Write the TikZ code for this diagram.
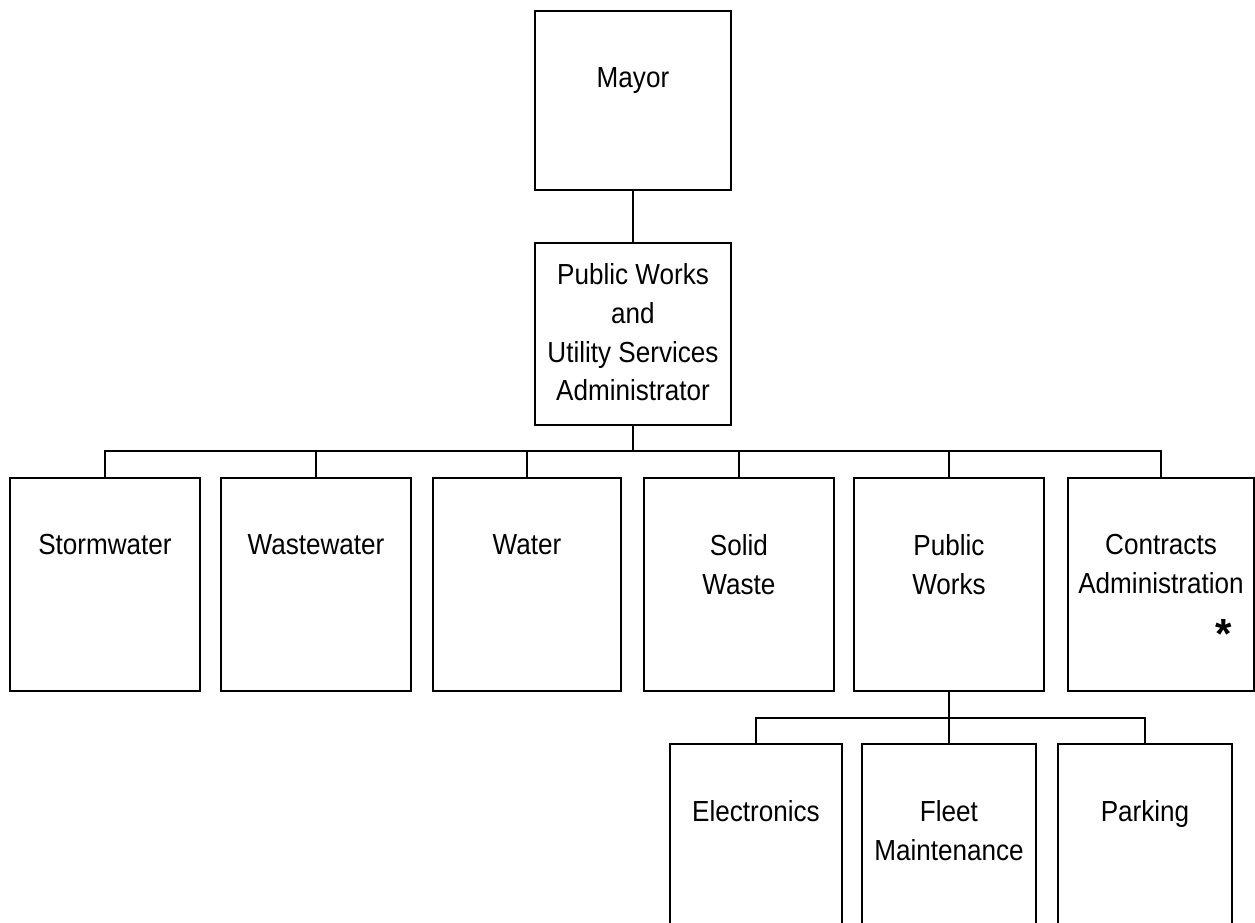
\documentclass[tikz,border=0pt]{standalone}
\usepackage{fontspec}
\setmainfont{Liberation Sans}
\newfontfamily\chartfont[FakeStretch=0.9]{Liberation Sans}
\usetikzlibrary{positioning}

\begin{document}
\begin{tikzpicture}
    [
        x = 0.02cm, y = -0.02cm,
        line width = 1.1pt,
        unit/.style = {draw, rectangle, anchor = north west, outer sep = 0pt, inner sep = 0pt},
        top/.style = {unit, minimum width = 3.92cm},
        dept/.style = {unit, minimum width = 3.8cm, minimum height = 4.26cm},
        sub/.style = {unit, minimum width = 3.44cm, minimum height = 4.4cm},
        txt/.style = {inner sep = 0pt, align = center, font = \chartfont\fontsize{16.5}{22}\selectfont}
    ]

    \useasboundingbox (0,0) rectangle (1255,923);
    \clip (0,0) rectangle (1255,923);

    % top of the chart
    \node[top, minimum height = 3.58cm] (mayor) at (535,11) {};
    \node[top, minimum height = 3.64cm] (admin) at (535,243) {};

    % departments
    \node[dept] (storm) at (10,478) {};
    \node[dept] (waste) at (221,478) {};
    \node[dept, minimum width = 3.76cm] (water) at (433,478) {};
    \node[dept] (solid) at (644,478) {};
    \node[dept] (pubw) at (854,478) {};
    \node[dept, minimum width = 3.72cm] (contr) at (1068,478) {};

    % public works divisions
    \node[sub] (elec) at (670,744) {};
    \node[sub, minimum width = 3.48cm] (fleet) at (862,744) {};
    \node[sub, minimum width = 3.48cm] (park) at (1058,744) {};

    % texts
    \node[txt, below = 1.12cm of mayor.north] (mayortxt) {Mayor};
    \node[txt, below = 0.4cm of admin.north] (admintxt) {Public Works\\and\\Utility Services\\Administrator};
    \node[txt, below = 1.11cm of storm.north] (stormtxt) {Stormwater};
    \node[txt, below = 1.11cm of waste.north] (wastetxt) {Wastewater};
    \node[txt, below = 1.11cm of water.north] (watertxt) {Water};
    \node[txt, below = 1.11cm of solid.north] (solidtxt) {Solid\\Waste};
    \node[txt, below = 1.11cm of pubw.north] (pubwtxt) {Public\\Works};
    \node[txt, below = 1.11cm of contr.north] (contrtxt) {Contracts\\Administration};
    \node[inner sep = 0pt, font = \fontsize{24}{24}\bfseries] (star) at (1224,634) {*};
    \node[txt, below = 1.11cm of elec.north] (electxt) {Electronics};
    \node[txt, below = 1.11cm of fleet.north] (fleettxt) {Fleet\\Maintenance};
    \node[txt, below = 1.11cm of park.north] (parktxt) {Parking};

    % connectors
    \coordinate (bus) at (0,451);
    \coordinate (subbus) at (0,718);
    \draw (mayor.south) -- (admin.north);
    \foreach \d in {storm, waste, water, solid, pubw, contr}
        \draw (admin.south) |- (bus -| \d.north) -- (\d.north);
    \foreach \d in {elec, fleet, park}
        \draw (pubw.south) |- (subbus -| \d.north) -- (\d.north);
\end{tikzpicture}
\end{document}
